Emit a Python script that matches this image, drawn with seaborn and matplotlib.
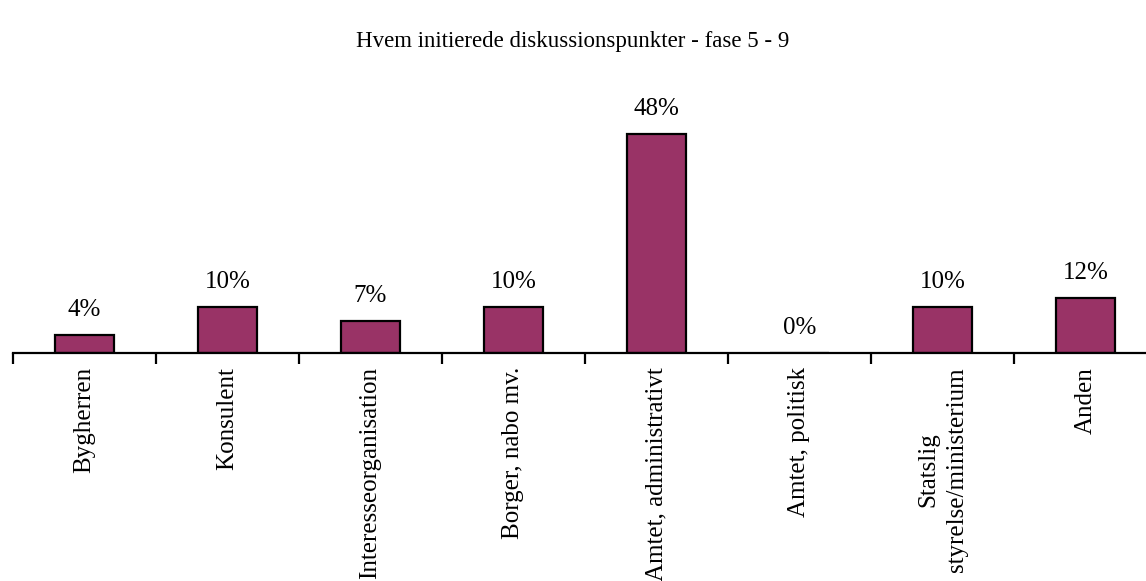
import numpy as np
import pandas as pd
import seaborn as sns
import matplotlib.pyplot as plt

categories = ["Bygherren", "Konsulent", "Interesseorganisation", "Borger, nabo mv.",
              "Amtet, administrativt", "Amtet, politisk", "Statslig\nstyrelse/ministerium", "Anden"]
values = [4, 10, 7, 10, 48, 0, 10, 12]
title = "Hvem initierede diskussionspunkter - fase 5 - 9"

sns.set_style("white")
plt.rcParams['font.family'] = ['Liberation Serif', 'DejaVu Serif']
plt.rcParams['text.color'] = 'black'
plt.rcParams['xtick.color'] = 'black'

df = pd.DataFrame({"kategori": categories, "andel": values})

fig = plt.figure(figsize=(11.46, 5.81), dpi=100)
# axis line from x=13 to x=1157 px, baseline at y=353 px
ax = fig.add_axes([13 / 1146, 1 - 353 / 581, 1144 / 1146, 253 / 581])
sns.barplot(data=df, x="kategori", y="andel", color="#993366", saturation=1,
            width=0.41, edgecolor="black", linewidth=1.6, ax=ax)

ax.set_xlim(-0.5, 7.5)
ax.set_ylim(0, 253 / 4.56)
for i, v in enumerate(values):
    ax.text(i, v + 3.1, f"{v}%", ha="center", va="bottom", fontsize=18)

ax.set_xlabel("")
ax.set_ylabel("")
ax.set_yticks([])
ax.set_xticks(range(len(categories)))
ax.set_xticklabels(categories, rotation=90, fontsize=18, va="top", ha="center",
                   color="black", linespacing=1.4)
ax.set_xticks(np.arange(-0.5, 8, 1), minor=True)
ax.tick_params(axis="x", which="major", length=0, pad=10)
ax.tick_params(axis="x", which="minor", length=8, width=1.6, direction="out",
               color="black", bottom=True)
for s in ["top", "right", "left"]:
    ax.spines[s].set_visible(False)
ax.spines["bottom"].set_linewidth(1.6)
ax.spines["bottom"].set_color("black")

fig.text(0.5, 1 - 41 / 581, title, ha="center", va="center", fontsize=16.5)

fig.savefig("out.png", dpi=100)
